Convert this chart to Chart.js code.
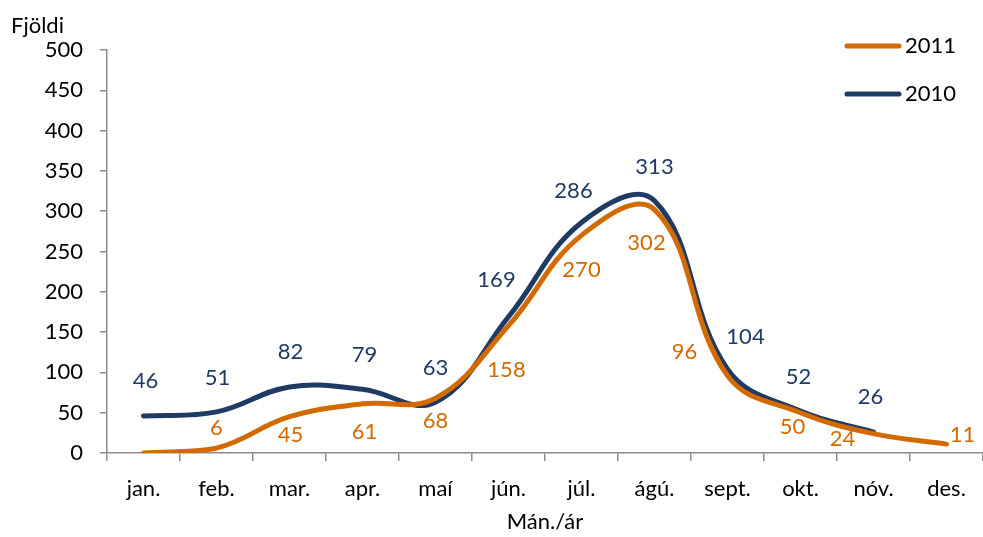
<!DOCTYPE html>
<html>
<head>
<meta charset="utf-8">
<script src="https://cdn.jsdelivr.net/npm/chart.js@4.4.1/dist/chart.umd.min.js"></script>
<style>
  html, body { margin: 0; padding: 0; background: #ffffff; }
  #wrap { width: 983px; height: 537px; }
</style>
</head>
<body>
<div id="wrap"><canvas id="chart"></canvas></div>
<script>
// chart data
const months = ['jan.', 'feb.', 'mar.', 'apr.', 'maí', 'jún.', 'júl.', 'ágú.', 'sept.', 'okt.', 'nóv.', 'des.'];
const values2011 = [0, 6, 45, 61, 68, 158, 270, 302, 96, 50, 24, 11];
const values2010 = [46, 51, 82, 79, 63, 169, 286, 313, 104, 52, 26, null];
const yMin = 0;
const yMax = 500;
const yStep = 50;

// where each value label sits, relative to its point (px)
const labelOffsets2011 = [null, [0, -20], [1, 18], [2, 28], [0, 23], [-2, 44], [0, 35], [-8, 33], [-43, -24], [-8, 14], [-31, 5], [16, -9]];
const labelOffsets2010 = [[2, -35], [1, -34], [1, -35], [2, -34], [0, -34], [-12, -37], [-8, -32], [0, -34], [18, -32], [-2, -34], [-3, -35], null];

const orange = '#D26A00';
const navy = '#1F3A63';
const axisGrey = '#8C8C8C';
const font = 'Lato, "Noto Sans", sans-serif';
const fontSize = 22;

const pointLabels = {
  id: 'pointLabels',
  afterDatasetsDraw(chart) {
    const ctx = chart.ctx;
    ctx.save();
    ctx.font = fontSize + 'px ' + font;
    ctx.textAlign = 'center';
    ctx.textBaseline = 'middle';
    chart.data.datasets.forEach((ds, i) => {
      const meta = chart.getDatasetMeta(i);
      meta.data.forEach((pt, j) => {
        const off = ds.labelOffsets[j];
        if (!off || ds.data[j] == null) return;
        ctx.fillStyle = ds.borderColor;
        ctx.fillText(String(ds.data[j]), pt.x + off[0], pt.y + off[1]);
      });
    });
    ctx.restore();
  }
};

const sideText = {
  id: 'sideText',
  afterDraw(chart) {
    const ctx = chart.ctx;
    ctx.save();
    ctx.font = fontSize + 'px ' + font;
    ctx.fillStyle = '#000';
    ctx.textBaseline = 'middle';
    ctx.textAlign = 'left';
    ctx.fillText('Fjöldi', 11, 26);

    // legend, stacked at the top right
    ctx.lineCap = 'round';
    ctx.lineWidth = 5;
    chart.data.datasets.forEach((ds, i) => {
      const y = 46 + i * 48;
      ctx.strokeStyle = ds.borderColor;
      ctx.beginPath();
      ctx.moveTo(847, y);
      ctx.lineTo(899, y);
      ctx.stroke();
      ctx.fillText(ds.label, 905, y);
    });
    ctx.restore();
  }
};

new Chart(document.getElementById('chart'), {
  type: 'line',
  data: {
    labels: months,
    datasets: [
      {
        label: '2011',
        data: values2011,
        borderColor: orange,
        backgroundColor: orange,
        borderWidth: 5,
        borderCapStyle: 'round',
        pointRadius: 0,
        tension: 0.4,
        labelOffsets: labelOffsets2011
      },
      {
        label: '2010',
        data: values2010,
        borderColor: navy,
        backgroundColor: navy,
        borderWidth: 5,
        borderCapStyle: 'round',
        pointRadius: 0,
        tension: 0.4,
        labelOffsets: labelOffsets2010
      }
    ]
  },
  options: {
    responsive: true,
    maintainAspectRatio: false,
    animation: false,
    layout: { padding: { top: 50, right: 0, bottom: 0, left: 0 } },
    plugins: {
      legend: { display: false },
      tooltip: { enabled: false }
    },
    scales: {
      x: {
        offset: true,
        grid: { offset: true, drawOnChartArea: false, drawTicks: true, tickLength: 8, color: axisGrey, lineWidth: 1.5 },
        border: { color: axisGrey, width: 1.5 },
        ticks: { color: '#000', font: { family: font, size: fontSize }, padding: 15, maxRotation: 0 },
        title: { display: true, text: 'Mán./ár', color: '#000', font: { family: font, size: fontSize }, padding: { top: 4, bottom: 2 } },
        afterFit(scale) { scale.height = 84; }
      },
      y: {
        min: yMin,
        max: yMax,
        ticks: { stepSize: yStep, color: '#000', font: { family: font, size: fontSize }, padding: 17 },
        grid: { drawOnChartArea: false, drawTicks: true, tickLength: 7, color: axisGrey, lineWidth: 1.5 },
        border: { color: axisGrey, width: 1.5 },
        afterFit(scale) { scale.width = 107; }
      }
    }
  },
  plugins: [pointLabels, sideText]
});
</script>
</body>
</html>
